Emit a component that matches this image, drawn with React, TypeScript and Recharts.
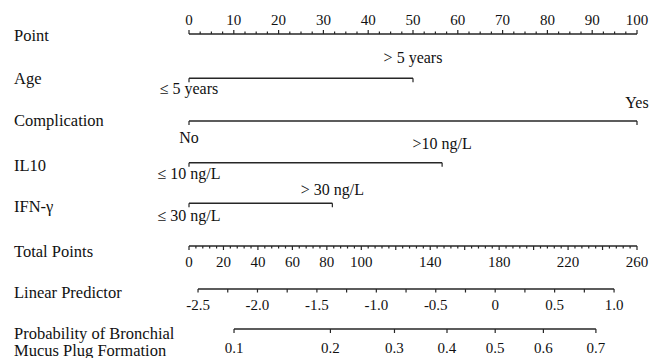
import React from 'react';
import { ComposedChart, XAxis, YAxis, ReferenceLine, ReferenceDot } from 'recharts';

// ---------------- data ----------------
const rowNames = [
  'Point',
  'Age',
  'Complication',
  'IL10',
  'IFN-γ',
  'Total Points',
  'Linear Predictor',
  'Probability of Bronchial|Mucus Plug Formation',
];

const pointLabels = [0, 10, 20, 30, 40, 50, 60, 70, 80, 90, 100];
const pointMax = 100;

const ageLevels = ['≤ 5 years', '> 5 years'];
const agePoints = [0, 50];
const complicationLevels = ['No', 'Yes'];
const complicationPoints = [0, 100];
const il10Levels = ['≤ 10 ng/L', '>10 ng/L'];
const il10Points = [0, 56.5];
const ifnLevels = ['≤ 30 ng/L', '> 30 ng/L'];
const ifnPoints = [0, 32];

const totalPointLabels = [0, 20, 40, 60, 80, 100, 140, 180, 220, 260];
const totalPointsMax = 260;

const lpValues = [-2.5, -2.0, -1.5, -1.0, -0.5, 0, 0.5, 1.0];
const lpLabels = ['-2.5', '-2.0', '-1.5', '-1.0', '-0.5', '0', '0.5', '1.0'];

const probValues = [0.1, 0.2, 0.3, 0.4, 0.5, 0.6, 0.7];
const probLabels = ['0.1', '0.2', '0.3', '0.4', '0.5', '0.6', '0.7'];

// ---------------- layout ----------------
const W = 651;
const H = 358;
const INK = '#262626';
const FONT = '"Liberation Serif", "DejaVu Serif", serif';
const ROW_Y = [0, 1.051, 2.064, 3.054, 4.017, 5.031, 6.051, 7];
const ROW_LABEL_DY = [7, 6, 5, 8.5, 9, 11, 9, 10];
const LP_DOMAIN: [number, number] = [-2.576, 1.193];
// baseline offsets of level labels [low, high]
const LEVEL_DY = [
  [16, -15],
  [22, -12.5],
  [16.5, -13.5],
  [17.5, -8],
];

const pointMinor = Array.from({ length: 41 }, (_, i) => i * 2.5);
const totalMinor = Array.from({ length: 66 }, (_, i) => i * 4);
const totalMajor = Array.from({ length: 14 }, (_, i) => i * 20);
const lpMinor = Array.from({ length: 15 }, (_, i) => -2.5 + i * 0.25);
const logit = (p: number) => Math.log(p / (1 - p));

const tickShape = (len: number) => (p: any) => (
  <line x1={p.cx} y1={p.cy} x2={p.cx} y2={p.cy + len} stroke={INK} strokeWidth={1.2} />
);

const textShape = (txt: string, dy: number, size: number) => (p: any) => (
  <text
    x={p.cx}
    y={p.cy + dy}
    textAnchor="middle"
    fontSize={size}
    fontFamily={FONT}
    fill="#111"
  >
    {txt}
  </text>
);

const RowTick = (props: any) => {
  const { y, payload } = props;
  let idx = 0;
  let best = Infinity;
  ROW_Y.forEach((v, i) => {
    const d = Math.abs(v - payload.value);
    if (d < best) {
      best = d;
      idx = i;
    }
  });
  const parts = rowNames[idx].split('|');
  return (
    <g>
      {parts.map((t, i) => (
        <text
          key={i}
          x={14}
          y={y + ROW_LABEL_DY[idx] + i * 16.5}
          fontSize={16.5}
          fontFamily={FONT}
          fill="#111"
          textAnchor="start"
        >
          {t}
        </text>
      ))}
    </g>
  );
};

const segment = (axis: string, x1: number, x2: number, row: number, key: string, sw = 1.4) => (
  <ReferenceLine
    key={key}
    xAxisId={axis}
    yAxisId="r"
    segment={[
      { x: x1, y: ROW_Y[row] },
      { x: x2, y: ROW_Y[row] },
    ]}
    stroke={INK}
    strokeWidth={sw}
    ifOverflow="visible"
  />
);

const dot = (axis: string, x: number, row: number, shape: any, key: string) => (
  <ReferenceDot
    key={key}
    xAxisId={axis}
    yAxisId="r"
    x={x}
    y={ROW_Y[row]}
    r={0}
    ifOverflow="visible"
    shape={shape}
  />
);

const variables = [
  { levels: ageLevels, points: agePoints, row: 1 },
  { levels: complicationLevels, points: complicationPoints, row: 2 },
  { levels: il10Levels, points: il10Points, row: 3 },
  { levels: ifnLevels, points: ifnPoints, row: 4 },
];

const dummy = ROW_Y.map((v) => ({ v }));

export default function App() {
  const els: any[] = [];

  // Point axis
  els.push(segment('pts', 0, pointMax, 0, 'pt-line', 1.5));
  pointMinor.forEach((v) => {
    const major = v % 10 === 0;
    els.push(dot('pts', v, 0, tickShape(major ? -4 : -2.5), `pt-t-${v}`));
  });
  pointLabels.forEach((v) => els.push(dot('pts', v, 0, textShape(String(v), -9, 15), `pt-l-${v}`)));

  // variable rows
  variables.forEach((vr, vi) => {
    const lo = vr.points[0];
    const hi = vr.points[1];
    els.push(segment('pts', lo, hi, vr.row, `var-${vi}`));
    els.push(dot('pts', lo, vr.row, tickShape(4), `var-${vi}-t0`));
    els.push(dot('pts', hi, vr.row, tickShape(4), `var-${vi}-t1`));
    els.push(dot('pts', lo, vr.row, textShape(vr.levels[0], LEVEL_DY[vi][0], 16), `var-${vi}-l0`));
    els.push(dot('pts', hi, vr.row, textShape(vr.levels[1], LEVEL_DY[vi][1], 16), `var-${vi}-l1`));
  });

  // Total points
  els.push(segment('tot', 0, totalPointsMax, 5, 'tot-line'));
  totalMinor.forEach((v) => {
    const major = totalMajor.includes(v);
    els.push(dot('tot', v, 5, tickShape(major ? 4 : 2.5), `tot-t-${v}`));
  });
  totalPointLabels.forEach((v) => els.push(dot('tot', v, 5, textShape(String(v), 21, 15), `tot-l-${v}`)));

  // Linear predictor
  els.push(segment('lp', lpValues[0], lpValues[lpValues.length - 1], 6, 'lp-line'));
  lpMinor.forEach((v, i) => els.push(dot('lp', v, 6, tickShape(3.5), `lp-t-${i}`)));
  lpValues.forEach((v, i) => els.push(dot('lp', v, 6, textShape(lpLabels[i], 21, 15), `lp-l-${i}`)));

  // Probability
  els.push(segment('lp', logit(probValues[0]), logit(probValues[probValues.length - 1]), 7, 'pr-line'));
  probValues.forEach((v, i) => {
    els.push(dot('lp', logit(v), 7, tickShape(4), `pr-t-${i}`));
    els.push(dot('lp', logit(v), 7, textShape(probLabels[i], 23.5, 15), `pr-l-${i}`));
  });

  return (
    <div style={{ position: 'absolute', left: 0, top: 0, width: W, height: H, background: '#fff' }}>
      <ComposedChart width={W} height={H} data={dummy} margin={{ top: 34, right: 14, bottom: 29, left: 0 }}>
        <XAxis xAxisId="pts" type="number" dataKey="v" domain={[0, pointMax]} allowDataOverflow hide />
        <XAxis xAxisId="tot" type="number" dataKey="v" domain={[0, totalPointsMax]} allowDataOverflow hide />
        <XAxis xAxisId="lp" type="number" dataKey="v" domain={LP_DOMAIN} allowDataOverflow hide />
        <YAxis
          yAxisId="r"
          type="number"
          domain={[0, 7]}
          reversed
          allowDataOverflow
          ticks={ROW_Y}
          interval={0}
          width={189}
          axisLine={false}
          tickLine={false}
          tick={RowTick}
        />
        {els}
      </ComposedChart>
    </div>
  );
}
